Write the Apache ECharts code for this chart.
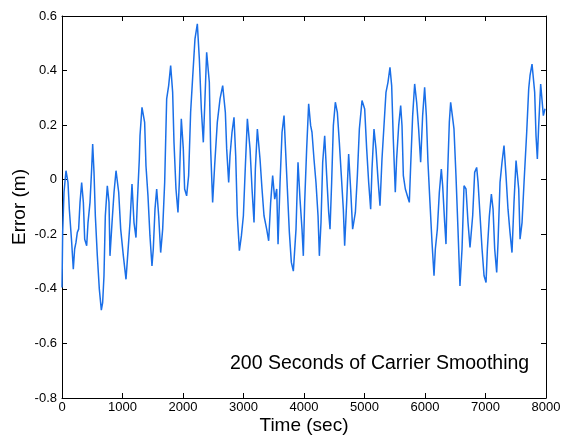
<!DOCTYPE html>
<html>
<head>
<meta charset="utf-8">
<script src="https://cdn.jsdelivr.net/npm/echarts@6/dist/echarts.min.js"></script>
<style>
html,body{margin:0;padding:0;background:#fff;}
#chart{width:566px;height:435px;}
</style>
</head>
<body>
<div id="chart"></div>
<script>
var times = [0,11,33,66,99,121,160,187,209,231,253,275,298,325,353,375,408,430,463,490,507,529,551,584,617,650,672,694,716,749,777,793,827,860,893,937,970,1014,1058,1085,1124,1157,1190,1223,1245,1278,
1289,1322,1366,1388,1421,1454,1487,1509,1537,1565,1598,1631,1664,1697,1730,1763,1796,1829,1851,1884,1917,1939,1972,2005,2027,2060,2093,2126,2160,2198,2237,2270,2303,2336,2363,2391,2435,2457,2490,2523,2567,
2612,2656,2700,2722,2755,2777,2810,2843,2871,2898,2932,2965,2998,3031,3064,3108,3141,3174,3196,3229,3273,3306,3339,3383,3416,3449,3482,3516,3549,3571,3604,3637,3670,3692,3725,3758,3791,3824,3868,3901,
3934,3967,3989,4011,4044,4077,4110,4132,4165,4198,4232,4254,4281,4309,4342,4375,4408,4430,4457,4485,4518,4551,4584,4617,4650,4672,4705,4738,4771,4804,4849,4882,4915,4959,5003,5036,5069,5102,5124,5157,5190,5223,
5256,5289,5322,5355,5388,5421,5449,5476,5509,5531,5565,5598,5620,5642,5675,5708,5741,5763,5796,5829,5862,5895,5928,5961,5994,6022,6049,6082,6116,6149,6171,6204,6237,6270,6292,6325,6347,6369,6402,6424,6452,6479,6512,6545,6578,
6612,6645,6678,6711,6744,6788,6821,6854,6877,6910,6943,6976,7009,7031,7064,7097,7125,7152,7185,7207,7240,7273,7306,7339,7372,7405,7438,7471,7505,7549,7571,7604,7637,7681,7714,7736,7769,7813,7835,7857,7879,7912,7956,7984,7995];
var errors = [-0.395,-0.193,-0.046,0.033,-0.01,-0.108,-0.23,-0.328,-0.254,-0.23,-0.193,-0.181,-0.083,-0.01,-0.083,-0.218,-0.242,-0.157,-0.083,0.039,0.131,0.027,-0.132,-0.279,-0.401,-0.478,-0.45,-0.352,-0.132,-0.022,-0.083,-0.279,-0.157,-0.046,0.033,-0.046,-0.181,-0.279,-0.365,-0.279,-0.157,-0.016,-0.157,-0.212,-0.083,
0.076,0.161,0.265,0.21,0.051,-0.059,-0.206,-0.316,-0.254,-0.108,-0.034,-0.132,-0.267,-0.181,-0.01,0.296,0.345,0.418,0.32,0.137,-0.034,-0.12,-0.01,0.223,0.113,-0.034,-0.059,0.015,0.247,0.376,0.516,0.571,0.443,0.259,0.137,0.296,0.467,0.357,0.113,-0.083,0.051,
0.21,0.296,0.345,0.247,0.113,-0.01,0.088,0.174,0.229,0.088,-0.132,-0.26,-0.206,-0.132,0.051,0.223,0.113,-0.034,-0.157,0.039,0.186,0.076,-0.034,-0.132,-0.181,-0.224,-0.083,0.015,-0.071,-0.034,-0.236,-0.01,0.174,0.235,0.125,-0.034,-0.193,-0.303,-0.335,-0.181,
0.064,-0.071,-0.181,-0.279,-0.083,0.113,0.278,0.198,0.174,0.076,-0.01,-0.132,-0.279,-0.157,0.064,0.161,0.015,-0.12,-0.181,-0.01,0.198,0.284,0.247,0.137,0.015,-0.108,-0.242,-0.083,0.094,-0.034,-0.181,-0.12,0.015,0.186,0.29,0.259,0.113,-0.01,-0.108,0.039,0.186,0.113,
0.003,-0.095,0.076,0.198,0.32,0.357,0.412,0.345,0.149,-0.046,0.076,0.198,0.272,0.198,0.015,-0.034,-0.059,-0.083,0.051,0.235,0.351,0.284,0.186,0.064,0.235,0.339,0.235,0.064,-0.083,-0.23,-0.352,-0.254,-0.181,-0.046,0.039,-0.022,-0.157,-0.236,-0.01,0.21,0.284,0.235,0.186,0.015,-0.181,
-0.389,-0.254,-0.022,-0.034,-0.157,-0.248,-0.132,0.027,0.045,-0.01,-0.132,-0.254,-0.352,-0.377,-0.254,-0.132,-0.053,-0.108,-0.254,-0.34,-0.23,-0.01,0.064,0.125,0.015,-0.108,-0.193,-0.267,-0.083,0.07,-0.034,-0.218,-0.157,-0.01,0.174,0.333,0.382,0.424,0.32,0.161,0.076,0.198,0.351,0.235,0.26];
var xTicks = [0,1000,2000,3000,4000,5000,6000,7000,8000];
var yTicks = [-0.8,-0.6,-0.4,-0.2,0,0.2,0.4,0.6];
var title = '200 Seconds of Carrier Smoothing';

var data = times.map(function(t,i){return [t, errors[i]];});
var font = 'Liberation Sans, Arial, sans-serif';
var chart = echarts.init(document.getElementById('chart'), null, {renderer:'canvas'});
function axisCommon(){
  return {
    axisLine:{show:true,onZero:false,lineStyle:{color:'#000',width:1}},
    axisTick:{show:true,inside:true,length:5,lineStyle:{color:'#000'}},
    splitLine:{show:false}
  };
}
chart.setOption({
  animation:false,
  grid:{left:62,right:20,top:16,bottom:37,containLabel:false,outerBoundsMode:'none'},
  xAxis:[
    Object.assign({type:'value',min:0,max:8000,interval:1000,position:'bottom',
      name:'Time (sec)',nameLocation:'middle',nameGap:18,nameMoveOverlap:false,
      nameTextStyle:{fontFamily:font,fontSize:19,color:'#000'},
      axisLabel:{fontFamily:font,fontSize:13,color:'#000',margin:3,
        formatter:function(v){return xTicks.indexOf(v)>=0?String(v):'';}}}, axisCommon()),
    Object.assign({type:'value',min:0,max:8000,interval:1000,position:'top',
      axisLabel:{show:false}}, axisCommon())
  ],
  yAxis:[
    Object.assign({type:'value',min:-0.8,max:0.6,interval:0.2,position:'left',
      name:'Error (m)',nameLocation:'middle',nameGap:33,nameRotate:90,nameMoveOverlap:false,
      nameTextStyle:{fontFamily:font,fontSize:19,color:'#000'},
      axisLabel:{fontFamily:font,fontSize:13,color:'#000',margin:5,
        formatter:function(v){var r=Math.round(v*10)/10; return r===0?'0':r.toFixed(1);}}}, axisCommon()),
    Object.assign({type:'value',min:-0.8,max:0.6,interval:0.2,position:'right',
      axisLabel:{show:false}}, axisCommon())
  ],
  graphic:[{type:'text',left:230,top:354,style:{text:title,fontFamily:font,fontSize:19.5,fill:'#000'}}],
  series:[{type:'line',data:data,showSymbol:false,symbol:'none',
    lineStyle:{color:'#1a6fe8',width:1.5},xAxisIndex:0,yAxisIndex:0}]
});
</script>
</body>
</html>
